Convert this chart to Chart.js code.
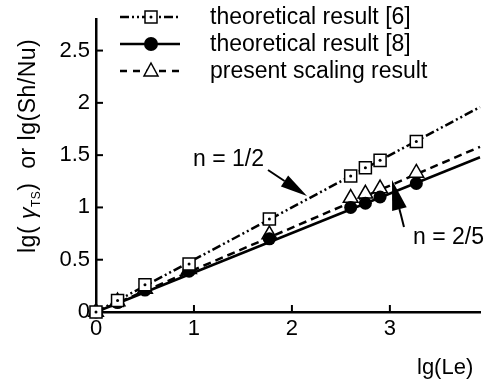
<!DOCTYPE html>
<html><head><meta charset="utf-8">
<script src="https://cdn.jsdelivr.net/npm/chart.js@4"></script>
<style>html,body{margin:0;padding:0;background:#fff}canvas{display:block}</style>
</head><body>
<div style="width:490px;height:383px"><canvas id="c" width="490" height="383"></canvas></div>
<script>
// ---- data ----
const lgLe     = [0, 0.22, 0.5, 0.95, 1.77, 2.6, 2.75, 2.9, 3.27];
const theory6  = [0, 0.11, 0.26, 0.46, 0.89, 1.30, 1.38, 1.45, 1.63];
const theory8  = [0, 0.09, 0.21, 0.39, 0.70, 1.00, 1.04, 1.10, 1.23];
const present  = [0, 0.10, 0.22, 0.41, 0.74, 1.09, 1.13, 1.18, 1.33];
const fitX       = [0, 3.92];
const fitHalf    = [0, 1.96];
const fitPresent = [0, 1.58];
const fitTheory8 = [0, 1.48];
const xTicks = [0, 1, 2, 3];
const yTicks = [0, 0.5, 1, 1.5, 2, 2.5];
const legendLabels = ['theoretical result [6]', 'theoretical result [8]', 'present scaling result'];
const annHalf = 'n = 1/2';
const annTwoFifth = 'n = 2/5';
const xTitle = 'lg(Le)';

const FONT = '"Liberation Sans", Arial, Helvetica, sans-serif';
const pts = (xs, ys) => xs.map((x, i) => ({x: x, y: ys[i]}));
const DASHDOT = [9, 3, 2, 3, 2, 3];
const DASH = [8, 5];

function arrow(ctx, tx, ty, hx, hy, len, hw) {
  const dx = hx - tx, dy = hy - ty, L = Math.hypot(dx, dy);
  const ux = dx / L, uy = dy / L;
  const bx = hx - ux * len, by = hy - uy * len;
  ctx.beginPath(); ctx.moveTo(tx, ty); ctx.lineTo(bx, by);
  ctx.lineWidth = 2; ctx.strokeStyle = '#000'; ctx.setLineDash([]); ctx.stroke();
  ctx.beginPath(); ctx.moveTo(hx, hy);
  ctx.lineTo(bx - uy * hw, by + ux * hw); ctx.lineTo(bx + uy * hw, by - ux * hw);
  ctx.closePath(); ctx.fillStyle = '#000'; ctx.fill();
}

const decor = {
  id: 'decor',
  afterDraw(chart) {
    const ctx = chart.ctx, xs = chart.scales.x, ys = chart.scales.y, a = chart.chartArea;
    ctx.save();
    // inward ticks
    ctx.strokeStyle = '#000'; ctx.lineWidth = 2; ctx.setLineDash([]);
    yTicks.forEach(v => { if (v === 0) return; const p = ys.getPixelForValue(v);
      ctx.beginPath(); ctx.moveTo(a.left, p); ctx.lineTo(a.left + 7, p); ctx.stroke(); });
    xTicks.forEach(v => { if (v === 0) return; const p = xs.getPixelForValue(v);
      ctx.beginPath(); ctx.moveTo(p, a.bottom); ctx.lineTo(p, a.bottom - 7); ctx.stroke(); });

    // legend
    const rows = [17, 44, 71];
    ctx.font = '23px ' + FONT; ctx.fillStyle = '#000'; ctx.textBaseline = 'middle'; ctx.textAlign = 'left';
    rows.forEach((y, i) => {
      ctx.beginPath(); ctx.moveTo(120, y); ctx.lineTo(180, y);
      ctx.lineWidth = 2.5; ctx.setLineDash(i === 0 ? DASHDOT : i === 1 ? [] : [7, 6]); ctx.stroke();
      ctx.setLineDash([]);
      const mx = 151;
      if (i === 0) {
        ctx.fillStyle = '#fff'; ctx.fillRect(mx - 6, y - 6, 12, 12);
        ctx.lineWidth = 1.5; ctx.strokeRect(mx - 6, y - 6, 12, 12);
        ctx.fillStyle = '#000'; ctx.beginPath(); ctx.arc(mx, y, 1.5, 0, 7); ctx.fill();
      } else if (i === 1) {
        ctx.fillStyle = '#000'; ctx.beginPath(); ctx.arc(mx, y, 7, 0, 7); ctx.fill();
      } else {
        ctx.fillStyle = '#fff'; ctx.beginPath();
        ctx.moveTo(mx, y - 8); ctx.lineTo(mx + 7, y + 5); ctx.lineTo(mx - 7, y + 5); ctx.closePath();
        ctx.fill(); ctx.lineWidth = 1.5; ctx.stroke();
      }
      ctx.fillStyle = '#000';
      ctx.fillText(legendLabels[i], 210, y + 1);
    });

    // annotations
    ctx.font = '23px ' + FONT;
    ctx.fillText(annHalf, 193, 160);
    ctx.fillText(annTwoFifth, 413, 238);
    arrow(ctx, 268, 170, 307, 196, 27, 6.5);
    arrow(ctx, 404, 227, 392, 180, 30, 7.5);

    // x title
    ctx.font = '22px ' + FONT;
    ctx.textBaseline = 'alphabetic';
    ctx.fillText(xTitle, 417, 374);

    // y title (rotated, with subscript)
    ctx.translate(35, 253); ctx.rotate(-Math.PI / 2);
    ctx.textBaseline = 'alphabetic'; ctx.textAlign = 'left';
    try { ctx.letterSpacing = '0.5px'; } catch (e) {}
    let x = 0;
    const put = (t, f, dy) => { ctx.font = f; ctx.fillText(t, x, dy || 0); x += ctx.measureText(t).width; };
    put('lg( ', '23px ' + FONT);
    put('\u03B3', 'italic 23px ' + FONT);
    put('TS', '12px ' + FONT, 5);
    put(')  or lg(Sh/Nu)', '23px ' + FONT);
    ctx.restore();
  }
};

new Chart(document.getElementById('c'), {
  type: 'scatter',
  data: {
    datasets: [
      { data: pts(lgLe, theory6), pointRadius: 1.5, pointBackgroundColor: '#000', pointBorderWidth: 0, showLine: false, clip: false },
      { data: pts(lgLe, theory6), pointStyle: 'rect', pointRadius: 8.5, pointBackgroundColor: '#fff', pointBorderColor: '#000', pointBorderWidth: 1.5, showLine: false, clip: false },
      { data: pts(lgLe, theory8), pointStyle: 'circle', pointRadius: 6.5, pointBackgroundColor: '#000', pointBorderColor: '#000', pointBorderWidth: 0, showLine: false, clip: false },
      { data: pts(lgLe, present), pointStyle: 'triangle', pointRadius: 8.5, pointBackgroundColor: '#fff', pointBorderColor: '#000', pointBorderWidth: 1.5, showLine: false, clip: false },
      { data: pts(fitX, fitHalf), showLine: true, pointRadius: 0, borderColor: '#000', borderWidth: 2.5, borderDash: DASHDOT, clip: false },
      { data: pts(fitX, fitPresent), showLine: true, pointRadius: 0, borderColor: '#000', borderWidth: 2.5, borderDash: DASH, clip: false },
      { data: pts(fitX, fitTheory8), showLine: true, pointRadius: 0, borderColor: '#000', borderWidth: 2.5, clip: false }
    ]
  },
  options: {
    responsive: false, animation: false, devicePixelRatio: 1,
    layout: { padding: { top: 8, right: 7, left: 0, bottom: 0 } },
    plugins: { legend: { display: false }, tooltip: { enabled: false } },
    scales: {
      x: {
        type: 'linear', min: 0, max: 3.92,
        afterFit: s => { s.height = 71; },
        afterBuildTicks: s => { s.ticks = xTicks.map(v => ({value: v})); },
        grid: { display: false, drawTicks: false },
        border: { display: true, color: '#000', width: 2.5 },
        ticks: { color: '#000', padding: 4, font: { family: FONT, size: 22 }, maxRotation: 0, autoSkip: false, callback: v => String(v) }
      },
      y: {
        type: 'linear', min: 0, max: 2.8,
        afterFit: s => { s.width = 96; },
        afterBuildTicks: s => { s.ticks = yTicks.map(v => ({value: v})); },
        grid: { display: false, drawTicks: false },
        border: { display: true, color: '#000', width: 2.5 },
        ticks: { color: '#000', padding: 6, font: { family: FONT, size: 22 }, autoSkip: false, callback: v => String(v) }
      }
    }
  },
  plugins: [decor]
});
</script>
</body></html>
